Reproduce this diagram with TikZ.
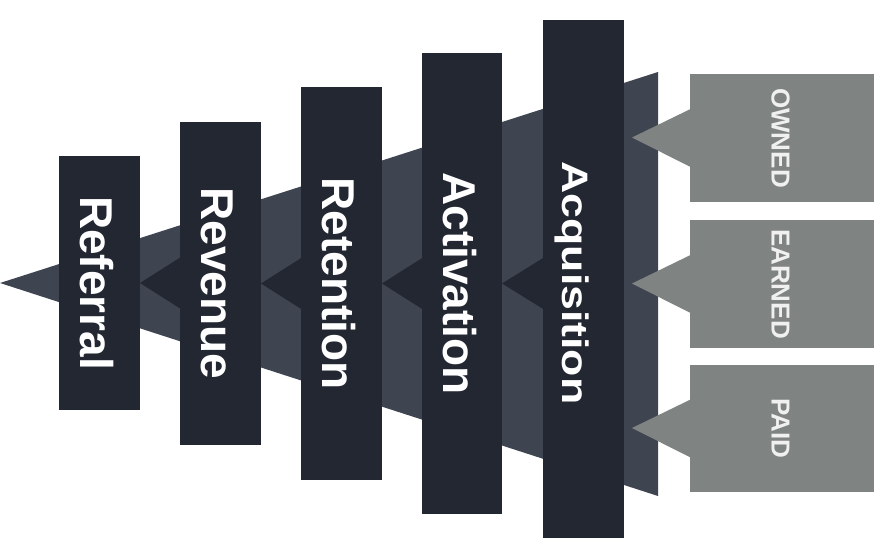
\documentclass[tikz,border=0pt]{standalone}
\usepackage{fontspec}
\usepackage{graphicx}
\setmainfont{Liberation Sans}
\usetikzlibrary{calc}

\definecolor{barDark}{HTML}{222732}
\definecolor{funnelGrey}{HTML}{3E4450}
\definecolor{channelGrey}{HTML}{7F8482}

\tikzset{
  stagebar/.style={fill=barDark, draw=none, inner sep=0pt, outer sep=0pt, minimum width=81pt},
  stagelabel/.style={text=white, font=\bfseries\fontsize{46}{50}\selectfont, rotate=-90, anchor=base, inner sep=0pt},
  channelbox/.style={fill=channelGrey, draw=none, inner sep=0pt, outer sep=0pt, minimum width=184pt},
  channellabel/.style={text=white!94!black, font=\bfseries\fontsize{26}{30}\selectfont, rotate=-90, anchor=base, inner sep=0pt},
}

\begin{document}
\begin{tikzpicture}[x=1pt, y=-1pt]
\useasboundingbox (0,0) rectangle (880,538);

% the funnel behind the stages
\fill[funnelGrey] (0,283) -- (658,72) -- (658,496) -- cycle;

% stage bars
\node[stagebar, minimum height=254pt] (referral)    at (99.5,283) {};
\node[stagebar, minimum height=323pt] (revenue)     at (220.5,283.5) {};
\node[stagebar, minimum height=393pt] (retention)   at (341.5,283.5) {};
\node[stagebar, minimum height=461pt, minimum width=80pt] (activation) at (462,283.5) {};
\node[stagebar, minimum height=518pt] (acquisition) at (583.5,279) {};

% arrow heads linking each stage to the previous one
\foreach \a/\b in {referral/revenue, retention/activation, revenue/retention, activation/acquisition}{
  \fill[barDark] (\a.east) -- ($(\b.west |- \a.east)+(1,-26)$) -- ($(\b.west |- \a.east)+(1,26)$) -- cycle;
}

% stage labels
\node[stagelabel] at ([xshift=-19.5pt]referral.center)  {Referral};
\node[stagelabel] at ([xshift=-19.5pt]revenue.center)   {Revenue};
\node[stagelabel] at ([xshift=-19.5pt]retention.center) {Retention};
\node[stagelabel] at ([xshift=-19pt]activation.center)  {Activation};
\node[stagelabel] at ($(acquisition.center |- referral.center)+(-21.5,0)$) {\scalebox{0.97}[0.8]{Acquisition}};

% channel callouts
\node[channelbox, minimum height=128pt] (owned)  at (782,138) {};
\node[channelbox, minimum height=128pt] (earned) at (782,284) {};
\node[channelbox, minimum height=127pt] (paid)   at (782,428.5) {};
\foreach \c in {owned, earned, paid}{
  \fill[channelGrey] ($(\c.west)+(0.5,-29)$) -- ($(\c.west)+(-58,-0.5)$) -- ($(\c.west)+(0.5,29)$) -- cycle;
}
\node[channellabel] at ([xshift=-10.5pt]owned.center)  {OWNED};
\node[channellabel] at ([xshift=-10.5pt]earned.center) {EARNED};
\node[channellabel] at ([xshift=-10.5pt]paid.center)   {PAID};
\end{tikzpicture}
\end{document}
